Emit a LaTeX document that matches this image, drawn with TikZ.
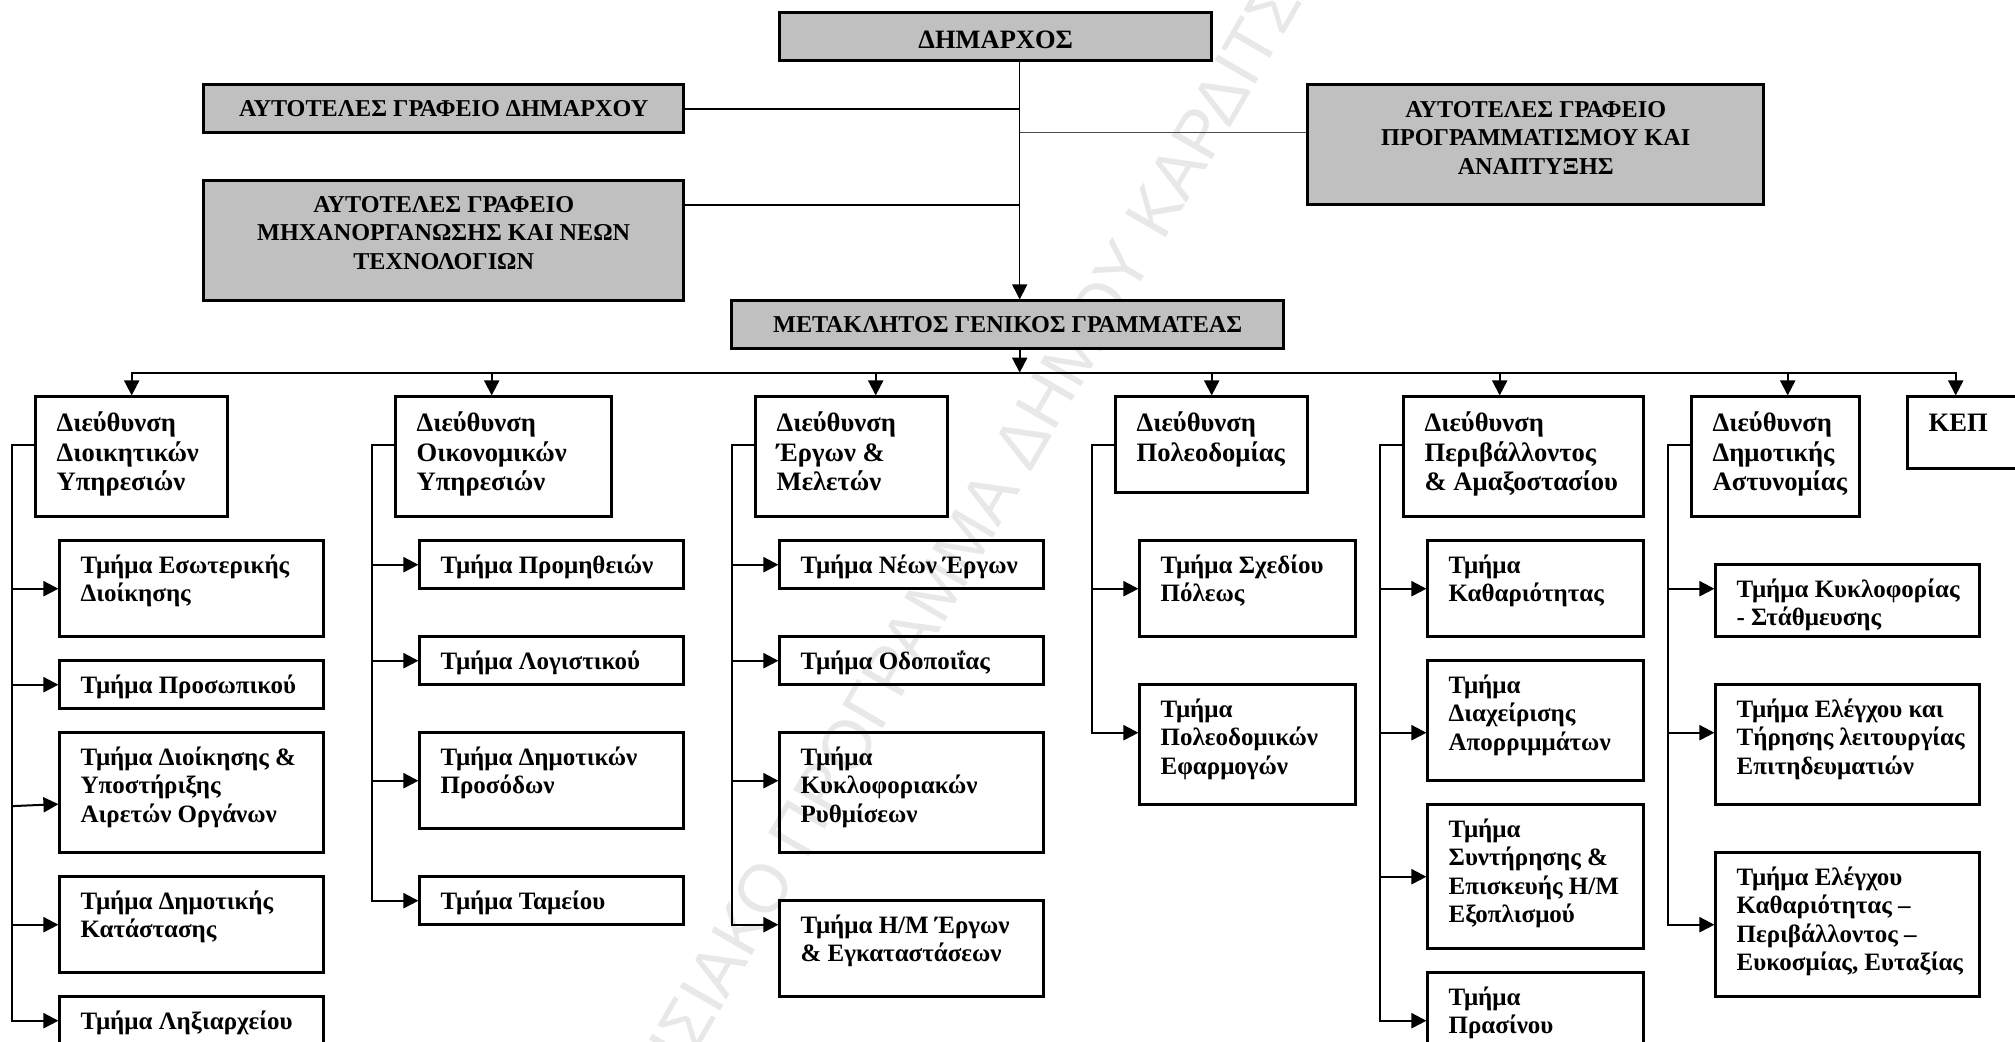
\documentclass[tikz,border=0pt]{standalone}
\usepackage{fontspec}
\setmainfont{Liberation Serif}
\newfontfamily\wmfont{Liberation Sans}
\usetikzlibrary{arrows.meta,fit}
\definecolor{hdgray}{HTML}{C0C0C0}
\definecolor{wmgray}{HTML}{E8E8E8}
\newcommand\hdsize{\fontsize{24.2}{28.3}\selectfont}
\newcommand\dirsize{\fontsize{26.6}{29.2}\selectfont}
\newcommand\subsize{\fontsize{25}{28.3}\selectfont}
\tikzset{
  boxline/.style={draw=black, line width=2.5pt, inner sep=0pt},
  graybox/.style={boxline, fill=hdgray},
  whitebox/.style={boxline},
  conn/.style={line width=2pt, line cap=rect},
  arr/.style={line width=2pt, -{Triangle[length=15pt,width=15pt]}},
  ctext/.style={anchor=base, inner sep=0pt, font=\bfseries\hdsize},
  dirtext/.style={anchor=base west, inner sep=0pt, font=\bfseries\dirsize},
  subtext/.style={anchor=base west, inner sep=0pt, font=\bfseries\subsize},
}
\newcommand\mkbox[6]{%
  \path (#3,#4) coordinate (#2-nw) (#5,#6) coordinate (#2-se);
  \node[#1, fit=(#2-nw)(#2-se)] (#2) {};}
\newcommand\ltext[4][subtext]{%
  \node[#1] (#2-t) at ([shift={(22pt,-#3pt)}]#2.north west) {\begin{tabular}[t]{@{}l@{}}#4\end{tabular}};}
\newcommand\ctxt[3]{%
  \node[ctext] (#1-t) at ([yshift=-#2pt]#1.north) {\begin{tabular}[t]{@{}c@{}}#3\end{tabular}};}
\newcommand\sarr[3]{%
  \coordinate (#1-in) at (#2,#3); \draw[arr] (#1-in) -- (#1-in -| #1.west);}
\newcommand\trunk[3]{%
  \coordinate (#1-tt) at (#2,18); \coordinate (#1-tb) at (#2,#3);
  \draw[conn] (#1.west |- #1-tt) -- (#1-tt) -- (#1-tb);}
\begin{document}
\begin{tikzpicture}[x=1pt,y=-1pt]
\useasboundingbox (0,0) rectangle (2015,1041);
\clip (0,0) rectangle (2015,1041);
\fill[white] (0,0) rectangle (2015,1041);
\node[rotate=60, inner sep=0pt, text=wmgray, font=\wmfont\fontsize{68}{68}\selectfont] (wm) at (922,615) {ΕΠΙΧΕΙΡΗΣΙΑΚΟ ΠΡΟΓΡΑΜΜΑ ΔΗΜΟΥ ΚΑΡΔΙΤΣΑΣ};
\begin{scope}[shift={(11.7,12.7)}, x=24pt, y=-24pt]
% top
\mkbox{graybox}{dim}{32}{0}{50}{2}
\node[ctext, font=\bfseries\fontsize{26.5}{29}\selectfont] (dim-t) at ([yshift=-37pt]dim.north) {ΔΗΜΑΡΧΟΣ};
\mkbox{graybox}{gd}{8}{3}{28}{5}
\ctxt{gd}{33}{ΑΥΤΟΤΕΛΕΣ ΓΡΑΦΕΙΟ ΔΗΜΑΡΧΟΥ}
\mkbox{graybox}{mx}{8}{7}{28}{12}
\ctxt{mx}{33}{ΑΥΤΟΤΕΛΕΣ ΓΡΑΦΕΙΟ\\ΜΗΧΑΝΟΡΓΑΝΩΣΗΣ ΚΑΙ ΝΕΩΝ\\ΤΕΧΝΟΛΟΓΙΩΝ}
\mkbox{graybox}{pr}{54}{3}{73}{8}
\ctxt{pr}{34}{ΑΥΤΟΤΕΛΕΣ ΓΡΑΦΕΙΟ\\ΠΡΟΓΡΑΜΜΑΤΙΣΜΟΥ ΚΑΙ\\ΑΝΑΠΤΥΞΗΣ}
\mkbox{graybox}{gen}{30}{12}{53}{14}
\ctxt{gen}{33}{ΜΕΤΑΚΛΗΤΟΣ ΓΕΝΙΚΟΣ ΓΡΑΜΜΑΤΕΑΣ}
\coordinate (v4) at (42,4); \coordinate (v5) at (42,5);
\coordinate (v8) at (42,8); \coordinate (v15) at (42,15);
\draw[line width=1.3pt, -{Triangle[length=15pt,width=15pt]}] (dim.south -| v4) -- (gen.north -| v4);
\draw[line width=2.3pt] (gd.east) -- (v4);
\draw[line width=2.3pt] (mx.east |- v8) -- (v8);
\draw[line width=1.3pt, draw=black!70] (v5) -- (pr.west |- v5);
\draw[arr] (gen.south -| v15) -- (v15);
% directors
\mkbox{whitebox}{d1}{1}{16}{9}{21}   \ltext[dirtext]{d1}{36.5}{Διεύθυνση\\Διοικητικών\\Υπηρεσιών}
\mkbox{whitebox}{d2}{16}{16}{25}{21} \ltext[dirtext]{d2}{36.5}{Διεύθυνση\\Οικονομικών\\Υπηρεσιών}
\mkbox{whitebox}{d3}{31}{16}{39}{21} \ltext[dirtext]{d3}{36.5}{Διεύθυνση\\Έργων \&\\Μελετών}
\mkbox{whitebox}{d4}{46}{16}{54}{20} \ltext[dirtext]{d4}{36.5}{Διεύθυνση\\Πολεοδομίας}
\mkbox{whitebox}{d5}{58}{16}{68}{21} \ltext[dirtext]{d5}{36.5}{Διεύθυνση\\Περιβάλλοντος\\\& Αμαξοστασίου}
\mkbox{whitebox}{d6}{70}{16}{77}{21} \ltext[dirtext]{d6}{36.5}{Διεύθυνση\\Δημοτικής\\Αστυνομίας}
\mkbox{whitebox}{d7}{79}{16}{88}{19} \ltext[dirtext]{d7}{36.5}{ΚΕΠ}
% bus
\coordinate (b1) at (5,15); \coordinate (b2) at (20,15); \coordinate (b3) at (36,15);
\coordinate (b4) at (50,15); \coordinate (b5) at (62,15); \coordinate (b6) at (74,15);
\coordinate (b7) at (81,15);
\draw[conn] (b1) -- (b7);
\foreach \i in {1,...,7} {\draw[arr] (b\i) -- (b\i |- d\i.north);}
% col1
\mkbox{whitebox}{s11}{2}{22}{13}{26} \ltext{s11}{34}{Τμήμα Εσωτερικής\\Διοίκησης}
\mkbox{whitebox}{s12}{2}{27}{13}{29} \ltext{s12}{34}{Τμήμα Προσωπικού}
\mkbox{whitebox}{s13}{2}{30}{13}{35} \ltext{s13}{34}{Τμήμα Διοίκησης \&\\Υποστήριξης\\Αιρετών Οργάνων}
\mkbox{whitebox}{s14}{2}{36}{13}{40} \ltext{s14}{34}{Τμήμα Δημοτικής\\Κατάστασης}
\mkbox{whitebox}{s15}{2}{41}{13}{43.6} \ltext{s15}{34}{Τμήμα Ληξιαρχείου}
\trunk{d1}{0}{42}
\sarr{s11}{0}{24} \sarr{s12}{0}{28}
\coordinate (s13-in) at (0,33.06); \draw[arr] (s13-in) -- ([yshift=2pt]s13-in -| s13.west);
\sarr{s14}{0}{38} \sarr{s15}{0}{42}
% col2
\mkbox{whitebox}{s21}{17}{22}{28}{24} \ltext{s21}{34}{Τμήμα Προμηθειών}
\mkbox{whitebox}{s22}{17}{26}{28}{28} \ltext{s22}{34}{Τμήμα Λογιστικού}
\mkbox{whitebox}{s23}{17}{30}{28}{34} \ltext{s23}{34}{Τμήμα Δημοτικών\\Προσόδων}
\mkbox{whitebox}{s24}{17}{36}{28}{38} \ltext{s24}{34}{Τμήμα Ταμείου}
\trunk{d2}{15}{37}
\sarr{s21}{15}{23} \sarr{s22}{15}{27} \sarr{s23}{15}{32} \sarr{s24}{15}{37}
% col3
\mkbox{whitebox}{s31}{32}{22}{43}{24} \ltext{s31}{34}{Τμήμα Νέων Έργων}
\mkbox{whitebox}{s32}{32}{26}{43}{28} \ltext{s32}{34}{Τμήμα Οδοποιΐας}
\mkbox{whitebox}{s33}{32}{30}{43}{35} \ltext{s33}{34}{Τμήμα\\Κυκλοφοριακών\\Ρυθμίσεων}
\mkbox{whitebox}{s34}{32}{37}{43}{41} \ltext{s34}{34}{Τμήμα Η/Μ Έργων\\\& Εγκαταστάσεων}
\trunk{d3}{30}{38}
\sarr{s31}{30}{23} \sarr{s32}{30}{27} \sarr{s33}{30}{32} \sarr{s34}{30}{38}
% col4
\mkbox{whitebox}{s41}{47}{22}{56}{26} \ltext{s41}{34}{Τμήμα Σχεδίου\\Πόλεως}
\mkbox{whitebox}{s42}{47}{28}{56}{33} \ltext{s42}{34}{Τμήμα\\Πολεοδομικών\\Εφαρμογών}
\trunk{d4}{45}{30}
\sarr{s41}{45}{24} \sarr{s42}{45}{30}
% col5
\mkbox{whitebox}{s51}{59}{22}{68}{26} \ltext{s51}{34}{Τμήμα\\Καθαριότητας}
\mkbox{whitebox}{s52}{59}{27}{68}{32} \ltext{s52}{34}{Τμήμα\\Διαχείρισης\\Απορριμμάτων}
\mkbox{whitebox}{s53}{59}{33}{68}{39} \ltext{s53}{34}{Τμήμα\\Συντήρησης \&\\Επισκευής Η/Μ\\Εξοπλισμού}
\mkbox{whitebox}{s54}{59}{40}{68}{44.5} \ltext{s54}{34}{Τμήμα\\Πρασίνου}
\trunk{d5}{57}{42}
\sarr{s51}{57}{24} \sarr{s52}{57}{30} \sarr{s53}{57}{36} \sarr{s54}{57}{42}
% col6
\mkbox{whitebox}{s61}{71}{23}{82}{26} \ltext{s61}{34}{Τμήμα Κυκλοφορίας\\- Στάθμευσης}
\mkbox{whitebox}{s62}{71}{28}{82}{33} \ltext{s62}{34}{Τμήμα Ελέγχου και\\Τήρησης λειτουργίας\\Επιτηδευματιών}
\mkbox{whitebox}{s63}{71}{35}{82}{41} \ltext{s63}{34}{Τμήμα Ελέγχου\\Καθαριότητας –\\Περιβάλλοντος –\\Ευκοσμίας, Ευταξίας}
\trunk{d6}{69}{38}
\sarr{s61}{69}{24} \sarr{s62}{69}{30} \sarr{s63}{69}{38}
\end{scope}
\end{tikzpicture}
\end{document}
